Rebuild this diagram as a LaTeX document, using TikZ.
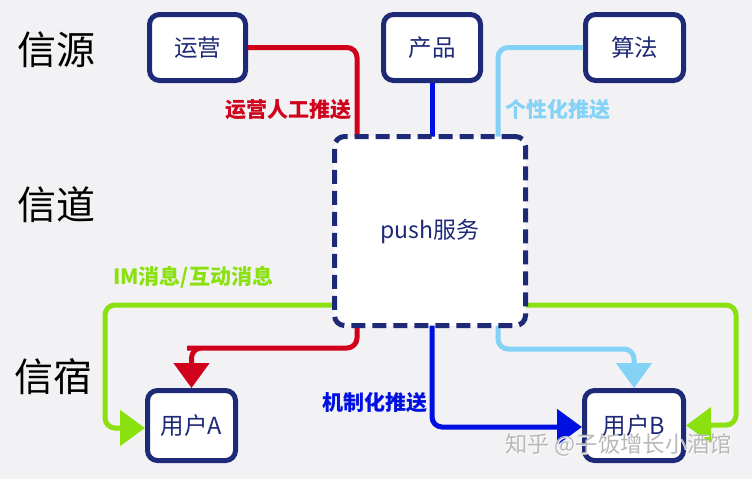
\documentclass[tikz,border=0pt]{standalone}
\usepackage{fontspec}
\setmainfont{Noto Sans CJK SC}
\usetikzlibrary{arrows.meta,calc}
\definecolor{bg}{HTML}{F2F2F4}
\definecolor{navy}{HTML}{1E2A78}
\definecolor{cred}{HTML}{D0021B}
\definecolor{cblue}{HTML}{0010E0}
\definecolor{clight}{HTML}{84D2F6}
\definecolor{cgreen}{HTML}{8BE010}
\definecolor{wm}{HTML}{B8B8B8}
\tikzset{
  box/.style={draw=navy, line width=5pt, fill=white, rounded corners=10pt, inner sep=0pt, text=navy, font=\fontsize{23.5}{26}\selectfont},
  pushbox/.style={box, dash pattern=on 14pt off 7pt},
  conn/.style={line width=5pt, rounded corners=10pt},
  tip/.style={-{Triangle[width=35pt,length=25pt]}},
  lbl/.style={font=\fontsize{21}{24}\selectfont\bfseries, inner sep=0pt},
  layer/.style={font=\fontsize{39}{42}\selectfont, text=black, inner sep=0pt},
  wmark/.style={font=\fontsize{22.3}{25}\selectfont, anchor=west, inner sep=0pt},
}
\begin{document}
\begin{tikzpicture}[x=1pt,y=-1pt]
\fill[bg] (0,0) rectangle (752,479);
\useasboundingbox (0,0) rectangle (752,479);

% layer labels
\node[layer] (ly1) at (56,50) {信源};
\node[layer] (ly2) at (56,205) {信道};
\node[layer] (ly3) at (53,377) {信宿};

% node coordinates
\coordinate (cyy) at (197.5,47.5);
\coordinate (ccp) at (432,47.5);
\coordinate (csf) at (634.5,47.5);
\coordinate (cps) at (430,231);
\coordinate (cua) at (191.5,425.5);
\coordinate (cub) at (634,425.5);

% connector end points
\coordinate (r1) at (357,140);
\coordinate (b1) at (432,140);
\coordinate (l1) at (498,140);
\coordinate (gl) at (340,305);
\coordinate (gr) at (520,305);
\coordinate (r2) at (357,320);
\coordinate (b2) at (432,320);
\coordinate (l2) at (498,320);

\node[box, minimum width=96pt, minimum height=66pt] (yy) at (cyy) {运营};
\node[box, minimum width=97pt, minimum height=66pt] (cp) at (ccp) {产品};
\node[box, minimum width=98pt, minimum height=66pt] (sf) at (csf) {算法};
\node[box, minimum width=88pt, minimum height=70pt] (ua) at (cua) {用户A};
\node[box, minimum width=99pt, minimum height=70pt] (ub) at (cub) {用户B};

\draw[conn, cred] (yy.east) -| (r1);
\draw[conn, cblue] (cp.south) -- (b1);
\draw[conn, clight] (sf.west) -| (l1);

\draw[conn, cgreen, tip] (gl) -| (105,428) -- (ua.west |- 0,428);
\draw[conn, cgreen, tip] (gr) -| (736,425) -- (ub.east);
\draw[conn, cred, tip] (r2) |- (197,348) -- (197,348 -| ua.north) -- (ua.north);
\draw[conn, cblue, tip] (b2) |- (ub.west |- 0,427);
\draw[conn, clight, tip] (l2) |- (634,349) -- (ub.north);

\node[pushbox, minimum width=191pt, minimum height=189pt, font=\fontsize{23}{26}\selectfont] (ps) at (cps) {push服务};

% labels
\node[lbl, text=cred, anchor=east] (t1) at (352,110) {运营人工推送};
\node[lbl, text=clight, anchor=west] (t2) at (505,110) {个性化推送};
\node[lbl, text=cgreen, anchor=west] (t3) at (113,277) {IM消息/互动消息};
\node[lbl, text=cblue, anchor=east] (t4) at (428,403) {机制化推送};

% watermark
\node[wmark, text=white] (wm2) at (505.8,445.8) {知乎 @子饭增长小酒馆};
\node[wmark, text=wm] (wm1) at (505,445) {知乎 @子饭增长小酒馆};
\end{tikzpicture}
\end{document}
